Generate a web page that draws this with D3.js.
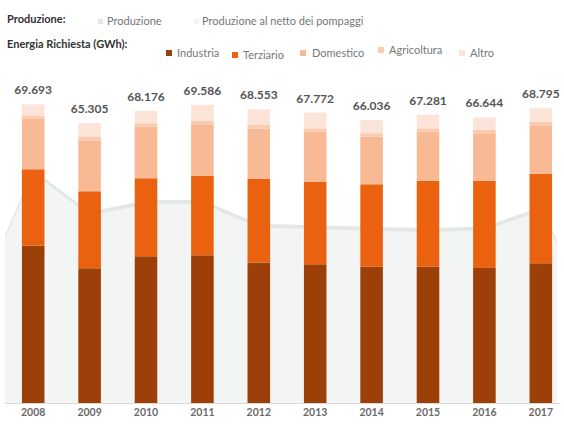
<!DOCTYPE html>
<html>
<head>
<meta charset="utf-8">
<script src="https://cdn.jsdelivr.net/npm/d3@7"></script>
<style>
  html, body { margin: 0; padding: 0; background: #ffffff; }
  svg { display: block; font-family: Lato, "Open Sans", sans-serif; }
</style>
</head>
<body>
<svg id="chart" width="564" height="424"></svg>
<script>
// Years on the category axis
const years = ["2008", "2009", "2010", "2011", "2012", "2013", "2014", "2015", "2016", "2017"];

// Energy demand by sector (GWh)
const industria   = [36710, 31440, 34240, 34470, 32790, 32370, 31810, 31810, 31510, 32610];
const terziario   = [17830, 17970, 18210, 18510, 19490, 19280, 19230, 20000, 20380, 20910];
const domestico   = [11740, 11900, 12040, 12070, 11740, 11600, 11110, 11440, 11060, 11300];
const agricoltura = [  700,   770,   800,   780,   850,   850,   800,   850,   800,   840];
const altro       = [ 2713,  3225,  2886,  3756,  3683,  3672,  3086,  3181,  2894,  3135];

// Total demand shown above each bar
const totali = [69693, 65305, 68176, 69586, 68553, 67772, 66036, 67281, 66644, 68795];

// Production (GWh), gross and net of pumped storage
const produzione      = [54500, 44600, 47300, 47400, 41800, 41500, 41100, 40800, 41200, 45700];
const produzioneNetta = [53600, 43700, 46400, 46500, 40900, 40600, 40200, 39900, 40300, 44800];
// Production area level at the left and right borders of the plot
const produzioneBordi      = [39200, 38200];
const produzioneNettaBordi = [38300, 37300];

const settori = ["Industria", "Terziario", "Domestico", "Agricoltura", "Altro"];
const colori  = ["#9c3f09", "#ea620f", "#f8b995", "#fbcbb1", "#fde4d9"];

const svg = d3.select("#chart");

const plotLeft = 5, plotRight = 557;
const x = d3.scaleBand().domain(years).range([5, 569]).paddingInner(0.6).paddingOuter(0.3);
const y = d3.scaleLinear().domain([0, 75000]).range([403, 81.6]);
const cx = d => x(d) + x.bandwidth() / 2;

// Production areas behind the bars, running out to the plot borders
const areaPath = (vals, bordi) => {
  const pts = [{ px: plotLeft, v: bordi[0] }]
    .concat(years.map((yr, i) => ({ px: cx(yr), v: vals[i] })))
    .concat([{ px: plotRight, v: bordi[1] }]);
  return d3.area().x(d => d.px).y0(y(0)).y1(d => y(d.v))(pts);
};

svg.append("path").attr("d", areaPath(produzione, produzioneBordi)).attr("fill", "#e4e7e7");
svg.append("path").attr("d", areaPath(produzioneNetta, produzioneNettaBordi)).attr("fill", "#f3f4f4");

// Stacked demand bars
const rows = years.map((yr, i) => ({
  year: yr,
  Industria: industria[i],
  Terziario: terziario[i],
  Domestico: domestico[i],
  Agricoltura: agricoltura[i],
  Altro: altro[i]
}));
const stack = d3.stack().keys(settori)(rows);

svg.append("g").selectAll("g")
  .data(stack)
  .join("g")
  .attr("fill", (d, i) => colori[i])
  .selectAll("rect")
  .data(d => d)
  .join("rect")
  .attr("x", d => x(d.data.year))
  .attr("width", x.bandwidth())
  .attr("y", d => y(d[1]))
  .attr("height", d => y(d[0]) - y(d[1]));

// Category axis baseline
svg.append("line")
  .attr("x1", plotLeft).attr("x2", 560)
  .attr("y1", y(0) + 0.5).attr("y2", y(0) + 0.5)
  .attr("stroke", "#d9dbdb").attr("stroke-width", 1);

// Year labels
const xAxis = d3.axisBottom(x).tickSize(0).tickPadding(0);
const gx = svg.append("g").attr("transform", `translate(0,${y(0) + 6})`).call(xAxis);
gx.select(".domain").remove();
gx.selectAll("text")
  .attr("dy", "0.71em")
  .attr("font-family", "Lato, sans-serif")
  .attr("font-size", 10.5)
  .attr("font-weight", 700)
  .attr("fill", "#6a6a6a");

// Total labels
const fmt = d3.formatLocale({ decimal: ",", thousands: ".", grouping: [3], currency: ["", "€"] }).format(",d");
svg.append("g").selectAll("text")
  .data(years)
  .join("text")
  .attr("x", d => cx(d))
  .attr("y", (d, i) => y(totali[i]) - 10)
  .attr("text-anchor", "middle")
  .attr("font-size", 12)
  .attr("font-weight", 700)
  .attr("fill", "#555")
  .text((d, i) => fmt(totali[i]));

// Legend
const legend = svg.append("g").attr("font-size", 11);
legend.append("text").attr("x", 7).attr("y", 23).attr("font-weight", 700).attr("fill", "#333").text("Produzione:");
legend.append("text").attr("x", 7).attr("y", 48).attr("font-weight", 700).attr("fill", "#333").text("Energia Richiesta (GWh):");

const prodLegend = [
  { label: "Produzione", color: "#e4e7e7", sx: 98, tx: 107 },
  { label: "Produzione al netto dei pompaggi", color: "#f1f2f2", sx: 194, tx: 202 }
];
prodLegend.forEach(d => {
  legend.append("rect").attr("x", d.sx).attr("y", 19).attr("width", 5).attr("height", 5).attr("fill", d.color);
  legend.append("text").attr("x", d.tx).attr("y", 25).attr("fill", "#777").text(d.label);
});

const sectLegend = [
  { sx: 166, tx: 177, by: 57 },
  { sx: 232, tx: 243, by: 59 },
  { sx: 300, tx: 312, by: 57 },
  { sx: 378, tx: 389, by: 54 },
  { sx: 459, tx: 470, by: 57 }
];
settori.forEach((s, i) => {
  const p = sectLegend[i];
  legend.append("rect").attr("x", p.sx).attr("y", p.by - 7).attr("width", 6).attr("height", 6).attr("fill", colori[i]);
  legend.append("text").attr("x", p.tx).attr("y", p.by).attr("fill", "#777").text(s);
});
</script>
</body>
</html>
